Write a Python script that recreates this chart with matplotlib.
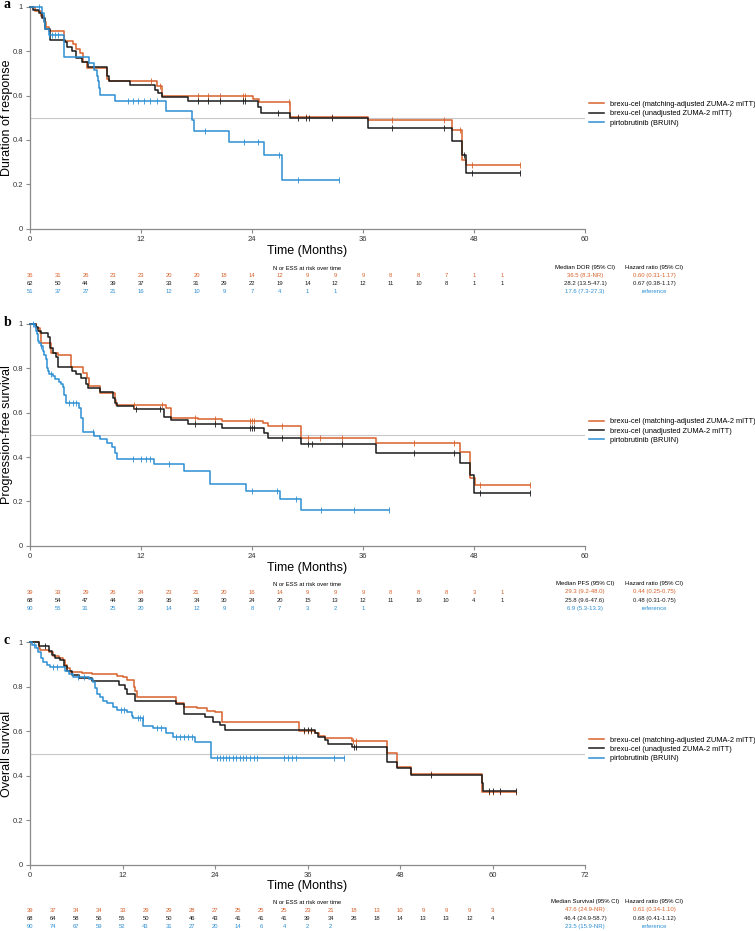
import numpy as np
import matplotlib
matplotlib.use('Agg')
import matplotlib.pyplot as plt
import matplotlib.transforms as mtransforms
from matplotlib.lines import Line2D

plt.rcParams['font.family'] = ['Liberation Sans', 'DejaVu Sans']

ORANGE = '#d8622b'
BLACK = '#1b1b1b'
BLUE = '#2c8fd4'
W, H = 755, 931

labels = ['brexu-cel (matching-adjusted ZUMA-2 mITT)',
          'brexu-cel (unadjusted ZUMA-2 mITT)',
          'pirtobrutinib (BRUIN)']

# --- a: duration of response ---
dor_or_t = [0, 0.5, 1.2, 1.5, 1.7, 2.1, 3.7, 4.6, 5.0, 5.4, 5.7, 6.2, 8.3, 8.5, 13.7, 14.3, 24.1, 24.8, 28.1, 36.5, 45.6, 46.7, 47.1]
dor_or_s = [1, 0.98, 0.96, 0.93, 0.91, 0.89, 0.845, 0.83, 0.81, 0.79, 0.75, 0.725, 0.675, 0.665, 0.645, 0.60, 0.585, 0.57, 0.505, 0.49, 0.445, 0.31, 0.285]
dor_or_c = [13.1, 14.0, 18.2, 19.2, 20.5, 23.0, 23.2, 28.0, 29.0, 29.8, 32.7, 39.1, 44.8, 46.5, 47.8, 53.0]
dor_bk_t = [0, 0.3, 1.0, 1.3, 1.6, 2.2, 3.8, 4.0, 4.5, 5.0, 5.6, 6.3, 8.3, 8.5, 10.8, 13.5, 13.8, 14.3, 17.1, 24.6, 25.0, 28.1, 36.5, 45.6, 46.7, 47.1]
dor_bk_s = [1, 0.985, 0.97, 0.95, 0.90, 0.85, 0.84, 0.82, 0.80, 0.77, 0.75, 0.73, 0.69, 0.665, 0.647, 0.625, 0.61, 0.595, 0.577, 0.547, 0.523, 0.497, 0.452, 0.396, 0.33, 0.249]
dor_bk_c = [18.2, 19.2, 20.5, 23.0, 23.2, 26.8, 29.0, 29.8, 30.2, 32.7, 39.1, 44.8, 46.9, 47.8, 53.0]
dor_bl_t = [0, 1.3, 1.5, 1.6, 2.0, 3.7, 6.4, 6.9, 7.2, 7.3, 7.5, 7.6, 9.2, 14.7, 17.5, 17.7, 21.5, 25.3, 27.2]
dor_bl_s = [1, 0.97, 0.93, 0.90, 0.872, 0.772, 0.745, 0.715, 0.69, 0.665, 0.632, 0.602, 0.577, 0.53, 0.49, 0.44, 0.392, 0.33, 0.218]
dor_bl_c = [1.0, 2.1, 2.4, 2.7, 3.0, 10.6, 11.1, 11.7, 12.3, 13.0, 13.7, 18.9, 23.1, 24.7, 26.9, 29.0, 33.4]
dor_end = [53.0, 53.0, 33.4]
dor_risk_or = [36, 31, 26, 23, 23, 20, 20, 18, 14, 12, 9, 9, 9, 8, 8, 7, 1, 1]
dor_risk_bk = [62, 50, 44, 39, 37, 33, 31, 29, 22, 19, 14, 12, 12, 11, 10, 8, 1, 1]
dor_risk_bl = [51, 37, 27, 21, 16, 12, 10, 9, 7, 4, 1, 1]
dor_median = ['36.5 (8.3-NR)', '28.2 (13.5-47.1)', '17.6 (7.3-27.3)']
dor_hr = ['0.60 (0.31-1.17)', '0.67 (0.38-1.17)', 'reference']

# --- b: progression-free survival ---
pfs_or_t = [0, 0.7, 1.1, 1.2, 2.3, 3.0, 4.4, 5.7, 6.2, 6.4, 7.6, 9.2, 9.3, 14.7, 15.2, 18.2, 20.8, 25.2, 25.7, 29.3, 37.4, 46.5, 47.6, 48.1]
pfs_or_s = [1, 0.98, 0.96, 0.915, 0.87, 0.86, 0.805, 0.78, 0.755, 0.72, 0.69, 0.655, 0.635, 0.62, 0.578, 0.571, 0.564, 0.552, 0.54, 0.484, 0.462, 0.424, 0.304, 0.274]
pfs_or_c = [11.2, 14.3, 17.8, 20.0, 23.8, 24.0, 24.2, 27.2, 30.0, 31.3, 33.7, 41.5, 45.8, 48.6, 54.0]
pfs_bk_t = [0, 0.7, 0.9, 1.2, 1.9, 2.2, 2.5, 2.8, 3.0, 4.5, 5.0, 5.5, 6.0, 6.3, 7.6, 9.0, 9.2, 9.4, 11.2, 14.5, 15.2, 17.1, 20.8, 25.3, 25.7, 29.3, 37.4, 46.5, 47.6, 48.0]
pfs_bk_s = [1, 0.985, 0.97, 0.958, 0.94, 0.89, 0.87, 0.853, 0.805, 0.788, 0.774, 0.755, 0.729, 0.71, 0.692, 0.665, 0.645, 0.632, 0.617, 0.582, 0.567, 0.549, 0.529, 0.507, 0.484, 0.457, 0.417, 0.372, 0.319, 0.239]
pfs_bk_c = [11.5, 14.0, 17.8, 20.0, 23.8, 24.0, 24.2, 27.2, 30.0, 30.5, 33.7, 41.5, 45.8, 48.6, 54.0]
pfs_bl_t = [0, 0.5, 0.7, 0.8, 0.9, 1.0, 1.2, 1.4, 1.5, 1.7, 1.8, 1.9, 2.1, 2.5, 2.7, 3.1, 3.4, 3.6, 3.7, 3.9, 5.3, 5.5, 5.7, 6.9, 7.6, 8.3, 8.9, 9.2, 9.4, 13.4, 16.6, 19.5, 23.4, 27.0, 29.3]
pfs_bl_s = [1, 0.985, 0.97, 0.955, 0.925, 0.915, 0.9, 0.88, 0.86, 0.84, 0.80, 0.79, 0.775, 0.765, 0.752, 0.74, 0.73, 0.714, 0.68, 0.645, 0.62, 0.574, 0.515, 0.495, 0.48, 0.465, 0.445, 0.42, 0.39, 0.367, 0.338, 0.277, 0.247, 0.21, 0.16]
pfs_bl_c = [0.3, 1.2, 2.3, 4.2, 4.6, 5.0, 6.8, 11.1, 12.0, 12.5, 13.0, 15.0, 24.0, 26.7, 28.8, 31.5, 35.0, 38.8]
pfs_end = [54.0, 54.0, 38.8]
pfs_risk_or = [39, 33, 29, 26, 24, 23, 21, 20, 16, 14, 9, 9, 9, 8, 8, 8, 3, 1]
pfs_risk_bk = [68, 54, 47, 44, 39, 36, 34, 30, 24, 20, 15, 13, 12, 11, 10, 10, 4, 1]
pfs_risk_bl = [90, 55, 31, 25, 20, 14, 12, 9, 8, 7, 3, 2, 1]
pfs_median = ['29.3 (9.2-48.0)', '25.8 (9.6-47.6)', '6.9 (5.3-13.3)']
pfs_hr = ['0.44 (0.25-0.75)', '0.48 (0.31-0.75)', 'reference']

# --- c: overall survival ---
os_or_t = [0, 1.2, 1.3, 2.4, 3.0, 3.7, 4.3, 4.5, 4.8, 5.2, 6.7, 8.0, 11.3, 12.1, 12.6, 13.5, 13.6, 13.9, 19.0, 20.0, 21.6, 22.9, 24.0, 24.9, 34.9, 37.0, 37.5, 38.3, 41.8, 46.3, 47.6, 49.4, 58.6, 58.7]
os_or_s = [1, 0.975, 0.967, 0.955, 0.94, 0.93, 0.92, 0.90, 0.883, 0.868, 0.863, 0.857, 0.85, 0.845, 0.83, 0.80, 0.78, 0.755, 0.725, 0.71, 0.703, 0.69, 0.685, 0.643, 0.603, 0.59, 0.58, 0.568, 0.557, 0.504, 0.438, 0.408, 0.366, 0.328]
os_or_c = [35.5, 36.0, 36.5, 41.9, 42.3, 52.0, 59.5, 60.0, 61.0, 63.1]
os_bk_t = [0, 1.2, 2.4, 2.8, 3.2, 3.9, 4.4, 4.8, 5.4, 6.3, 8.0, 11.5, 12.3, 12.6, 13.6, 19.0, 20.0, 22.7, 23.8, 24.7, 25.3, 37.0, 37.4, 38.3, 38.7, 41.8, 46.3, 47.6, 49.4, 58.6, 58.8]
os_bk_s = [1, 0.985, 0.96, 0.945, 0.93, 0.92, 0.895, 0.87, 0.855, 0.84, 0.826, 0.81, 0.79, 0.766, 0.737, 0.721, 0.677, 0.665, 0.64, 0.63, 0.605, 0.59, 0.575, 0.56, 0.543, 0.527, 0.463, 0.433, 0.403, 0.366, 0.333]
os_bk_c = [2.0, 35.5, 36.0, 36.5, 42.0, 42.3, 52.0, 59.5, 60.0, 61.0, 63.1]
os_bl_t = [0, 0.2, 0.8, 1.1, 1.4, 1.7, 2.2, 2.6, 4.5, 5.0, 5.6, 7.6, 8.2, 8.4, 8.7, 9.1, 9.5, 10.0, 10.8, 11.3, 12.6, 13.2, 13.4, 14.7, 16.0, 17.7, 18.6, 21.4, 23.5]
os_bl_s = [1, 0.99, 0.975, 0.955, 0.93, 0.91, 0.9, 0.887, 0.87, 0.856, 0.845, 0.835, 0.823, 0.793, 0.767, 0.752, 0.735, 0.725, 0.71, 0.695, 0.688, 0.67, 0.658, 0.623, 0.613, 0.59, 0.573, 0.55, 0.481]
os_bl_c = [0.5, 3.0, 3.5, 6.2, 7.0, 11.8, 12.2, 14.0, 14.3, 14.6, 16.5, 17.0, 19.0, 19.5, 20.0, 20.5, 21.0,
           24.2, 24.6, 25.0, 25.4, 25.8, 26.3, 26.7, 27.2, 27.6, 28.0, 28.5, 29.0, 29.5, 33.0, 33.5, 34.0, 34.5, 39.5, 40.7]
os_end = [63.1, 63.1, 40.7]
os_risk_or = [39, 37, 34, 34, 33, 29, 29, 28, 27, 25, 25, 25, 23, 21, 18, 13, 10, 9, 9, 9, 3]
os_risk_bk = [68, 64, 58, 56, 55, 50, 50, 46, 43, 41, 41, 41, 39, 34, 26, 18, 14, 13, 13, 12, 4]
os_risk_bl = [90, 74, 67, 59, 52, 43, 31, 27, 20, 14, 6, 4, 2, 2]
os_median = ['47.6 (24.9-NR)', '46.4 (24.9-58.7)', '23.5 (15.9-NR)']
os_hr = ['0.61 (0.34-1.10)', '0.68 (0.41-1.12)', 'reference']

colors = [ORANGE, BLACK, BLUE]

fig = plt.figure(figsize=(W / 100, H / 100), dpi=100)


def fx(px):
    return px / W


def fy(py):
    return 1 - py / H


def km(ax, t, s, end, cens, color):
    t = np.append(np.asarray(t, float), end)
    s = np.append(np.asarray(s, float), s[-1])
    ax.step(t, s, where='post', color=color, lw=1.1, zorder=3, clip_on=False)
    idx = np.searchsorted(t, cens, side='right') - 1
    ax.plot(cens, s[idx], ls='none', marker='|', ms=4, mew=0.6, color=color, zorder=4, clip_on=False)


def panel(top, bottom, xmax, letter, ylabel, curves, ends, risks, head, meds, hrs, y0):
    ax = fig.add_axes([fx(30), fy(bottom), fx(585) - fx(30), fy(top) - fy(bottom)])
    ax.axhline(0.5, color='#c8c8c8', lw=0.8, zorder=1)
    for (t, s, c), e, col in zip(curves, ends, colors):
        km(ax, t, s, e, c, col)
    ax.set_xlim(0, xmax)
    ax.set_ylim(0, 1)
    ax.set_xticks(np.arange(0, xmax + 1, 12))
    ax.set_yticks([0, 0.2, 0.4, 0.6, 0.8, 1])
    ax.set_yticklabels(['0', '0.2', '0.4', '0.6', '0.8', '1'])
    for sp in ['top', 'right']:
        ax.spines[sp].set_visible(False)
    for sp in ['left', 'bottom']:
        ax.spines[sp].set_color('#8a8a8a')
        ax.spines[sp].set_linewidth(0.9)
    ax.tick_params(length=3, width=0.8, color='#8a8a8a', labelsize=5.5, labelcolor='#333333', pad=2)
    ax.set_facecolor('none')

    handles = [Line2D([], [], color=c, lw=1.1) for c in colors]
    ax.legend(handles, labels, loc='center left', bbox_to_anchor=(fx(589), fy(top + 107)),
              bbox_transform=fig.transFigure, frameon=False, fontsize=5.3, handlelength=2.0,
              handletextpad=0.9, labelspacing=0.3, borderpad=0, borderaxespad=0)

    fig.text(fx(4), fy(top - 2), letter, fontsize=10, fontweight='bold', family='Liberation Serif',
             ha='left', va='center')
    fig.text(fx(7), fy((top + bottom) / 2), ylabel, rotation=90, fontsize=9, ha='center', va='center')
    fig.text(fx(307.5), fy(y0), 'Time (Months)', fontsize=9, ha='center', va='center')
    fig.text(fx(307.5), fy(y0 + 17), 'N or ESS at risk over time', fontsize=4.2, ha='center', va='center')
    fig.text(fx(585), fy(y0 + 16), head, fontsize=4.3, ha='center', va='center')
    fig.text(fx(654), fy(y0 + 16), 'Hazard ratio (95% CI)', fontsize=4.3, ha='center', va='center')

    trans = mtransforms.blended_transform_factory(ax.transData, fig.transFigure)
    for i, (vals, col) in enumerate(zip(risks, colors)):
        ry = fy(y0 + 24 + i * 8.4)
        for m, v in zip(np.arange(len(vals)) * 3, vals):
            ax.text(m, ry, str(v), transform=trans, fontsize=4.2, color=col, ha='center', va='center')
        fig.text(fx(585), ry, meds[i], fontsize=4.3, color=col, ha='center', va='center')
        fig.text(fx(654), ry, hrs[i], fontsize=4.3, color=col, ha='center', va='center')
    return ax


panel(6.7, 228.7, 60, 'a', 'Duration of response',
      [(dor_or_t, dor_or_s, dor_or_c), (dor_bk_t, dor_bk_s, dor_bk_c), (dor_bl_t, dor_bl_s, dor_bl_c)],
      dor_end, [dor_risk_or, dor_risk_bk, dor_risk_bl], 'Median DOR (95% CI)', dor_median, dor_hr, 251)
panel(324, 545.7, 60, 'b', 'Progression-free survival',
      [(pfs_or_t, pfs_or_s, pfs_or_c), (pfs_bk_t, pfs_bk_s, pfs_bk_c), (pfs_bl_t, pfs_bl_s, pfs_bl_c)],
      pfs_end, [pfs_risk_or, pfs_risk_bk, pfs_risk_bl], 'Median PFS (95% CI)', pfs_median, pfs_hr, 568)
panel(642.3, 864.7, 72, 'c', 'Overall survival',
      [(os_or_t, os_or_s, os_or_c), (os_bk_t, os_bk_s, os_bk_c), (os_bl_t, os_bl_s, os_bl_c)],
      os_end, [os_risk_or, os_risk_bk, os_risk_bl], 'Median Survival (95% CI)', os_median, os_hr, 886)

fig.savefig('out.png', dpi=100)
